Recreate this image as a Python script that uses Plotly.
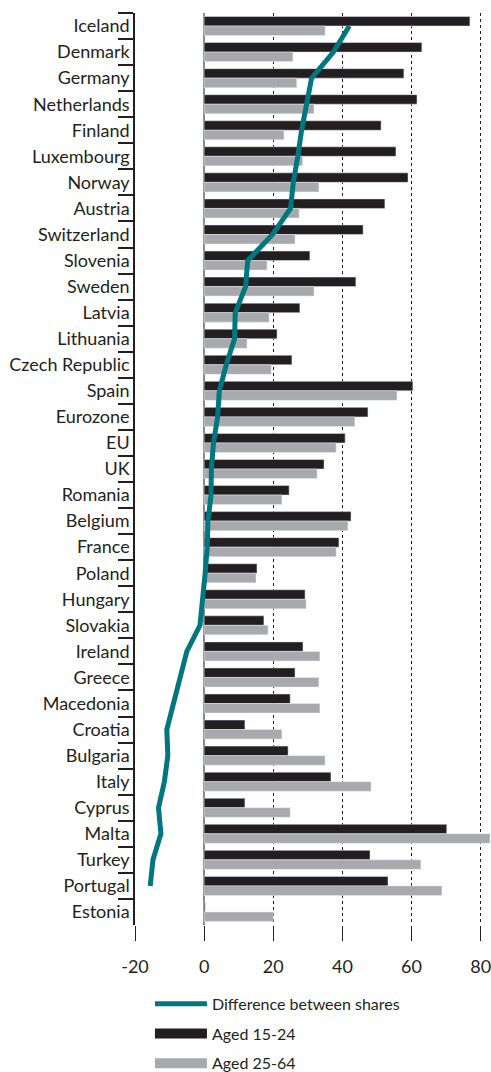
import plotly.graph_objects as go

countries = ["Iceland", "Denmark", "Germany", "Netherlands", "Finland", "Luxembourg",
             "Norway", "Austria", "Switzerland", "Slovenia", "Sweden", "Latvia",
             "Lithuania", "Czech Republic", "Spain", "Eurozone", "EU", "UK", "Romania",
             "Belgium", "France", "Poland", "Hungary", "Slovakia", "Ireland", "Greece",
             "Macedonia", "Croatia", "Bulgaria", "Italy", "Cyprus", "Malta", "Turkey",
             "Portugal", "Estonia"]

aged_15_24 = [76.9, 63.0, 57.8, 61.6, 51.2, 55.5, 59.0, 52.3, 46.0, 30.6, 43.9, 27.7,
              21.1, 25.4, 60.4, 47.4, 40.8, 34.7, 24.6, 42.5, 39.0, 15.3, 29.2, 17.3,
              28.6, 26.3, 24.9, 11.8, 24.3, 36.7, 11.8, 70.2, 48.0, 53.2, 0.3]

aged_25_64 = [35.0, 25.7, 26.8, 31.8, 23.1, 28.5, 33.2, 27.5, 26.3, 18.2, 31.8, 18.8,
              12.4, 19.4, 55.8, 43.6, 38.2, 32.7, 22.5, 41.6, 38.2, 15.0, 29.5, 18.5,
              33.5, 33.2, 33.5, 22.5, 35.0, 48.3, 24.9, 82.7, 62.7, 68.8, 20.0]

difference = [42.0, 37.4, 31.1, 29.6, 28.2, 27.1, 25.8, 25.0, 19.8, 12.6, 12.0, 9.0,
              8.8, 6.4, 4.4, 3.9, 2.7, 2.1, 2.0, 1.1, 0.9, 0.3, -0.4, -1.2,
              -5.0, -6.9, -8.8, -10.8, -10.5, -11.5, -13.2, -12.5, -14.8, -15.6, None]

x_ticks = [-20, 0, 20, 40, 60, 80]

BLACK = "#231f20"
GRAY = "#a7a9ac"
TEAL = "#00777f"
TXT = "#231f20"
FONT = "Lato"
FS = 18

fig = go.Figure()
fig.add_trace(go.Bar(x=aged_15_24, y=countries, orientation="h", marker_color=BLACK,
                     name="Aged 15-24", showlegend=False))
fig.add_trace(go.Bar(x=aged_25_64, y=countries, orientation="h", marker_color=GRAY,
                     name="Aged 25-64", showlegend=False))
fig.add_trace(go.Scatter(x=difference, y=countries, mode="lines",
                         line=dict(color=TEAL, width=5), name="Difference between shares",
                         connectgaps=False, legendgroup="a"))
# legend entries for the bar series
fig.add_trace(go.Scatter(x=[None], y=[None], mode="lines",
                         line=dict(color=BLACK, width=21), name="Aged 15-24", legendgroup="b"))
fig.add_trace(go.Scatter(x=[None], y=[None], mode="lines",
                         line=dict(color=GRAY, width=21), name="Aged 25-64", legendgroup="c"))

fig.update_layout(
    width=491, height=1072,
    margin=dict(l=135, r=0, t=13, b=147, autoexpand=False),
    paper_bgcolor="white", plot_bgcolor="white",
    barmode="group", bargap=0.27, bargroupgap=0,
    font=dict(family=FONT, size=FS, color=TXT),
    showlegend=True,
    legend=dict(x=0.042, y=-0.0677, xanchor="left", yanchor="top",
                itemwidth=52, traceorder="grouped",
                font=dict(family=FONT, size=16, color=TXT),
                bgcolor="rgba(0,0,0,0)", tracegroupgap=6),
    xaxis=dict(range=[-20, 83], tickvals=x_ticks, ticktext=[str(v) for v in x_ticks],
               showgrid=True, gridcolor=TXT, griddash="3px,3px", gridwidth=1,
               zeroline=True, zerolinecolor="#8a8a8a", zerolinewidth=1.5,
               showline=False, ticks="outside", ticklen=15, tickcolor=TXT, tickwidth=1,
               ticklabelstandoff=10, ticklabeloverflow="allow",
               tickfont=dict(family=FONT, size=FS, color=TXT), fixedrange=True),
    yaxis=dict(type="category", categoryorder="array", categoryarray=countries,
               range=[34.5, -0.5], showgrid=False, zeroline=False,
               showline=True, linecolor=TXT, linewidth=1.5,
               ticks="outside", tickson="boundaries", ticklen=15, tickcolor=TXT, tickwidth=1.5,
               tickfont=dict(family=FONT, size=FS, color=TXT), fixedrange=True),
)

fig.write_html("out.html", config={"displayModeBar": False},
               post_script="document.body.style.margin='0';")
